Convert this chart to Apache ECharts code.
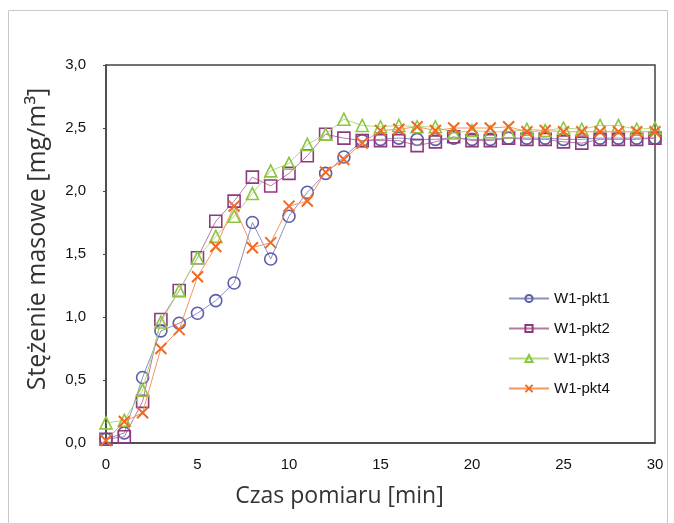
<!DOCTYPE html>
<html>
<head>
<meta charset="utf-8">
<script src="https://cdn.jsdelivr.net/npm/echarts@6/dist/echarts.min.js"></script>
<style>html,body{margin:0;padding:0;background:#fff}#c{width:674px;height:523px}</style>
</head>
<body>
<div id="c"></div>
<script>
const minutes = [0,1,2,3,4,5,6,7,8,9,10,11,12,13,14,15,16,17,18,19,20,21,22,23,24,25,26,27,28,29,30];
const pkt1 = [0.03,0.08,0.52,0.89,0.95,1.03,1.13,1.27,1.75,1.46,1.80,1.99,2.14,2.27,2.40,2.41,2.42,2.41,2.41,2.42,2.41,2.41,2.42,2.42,2.42,2.41,2.41,2.42,2.42,2.42,2.42];
const pkt2 = [0.03,0.05,0.33,0.98,1.21,1.47,1.76,1.92,2.11,2.04,2.14,2.28,2.45,2.42,2.40,2.40,2.40,2.36,2.39,2.43,2.40,2.40,2.42,2.41,2.41,2.39,2.38,2.41,2.41,2.41,2.42];
const pkt3 = [0.16,0.18,0.42,0.96,1.21,1.47,1.64,1.80,1.98,2.16,2.22,2.37,2.45,2.57,2.52,2.51,2.52,2.51,2.51,2.46,2.48,2.47,2.47,2.49,2.48,2.50,2.49,2.52,2.52,2.49,2.50];
const pkt4 = [0.02,0.17,0.24,0.75,0.90,1.32,1.56,1.88,1.55,1.59,1.88,1.92,2.15,2.25,2.38,2.48,2.49,2.51,2.48,2.50,2.50,2.50,2.51,2.47,2.48,2.47,2.47,2.47,2.47,2.47,2.47];
const seriesNames = ['W1-pkt1','W1-pkt2','W1-pkt3','W1-pkt4'];
const xTitle = 'Czas pomiaru [min]';
const yTitle = 'Stężenie masowe [mg/m³]';

const toPairs = arr => minutes.map((m,i)=>[m,arr[i]]);
const colors = ['#5b5ea8','#8e3a7e','#8cc63f','#f26a21'];
const lineColors = ['#8c8fc0','#b47aa6','#b3d97f','#f5955f'];
const symbols = ['circle','rect','triangle','path://M0,0L10,10M10,0L0,10'];
const sizes = [12,12,12,11];

function mk(i, arr){
  return {
    name: seriesNames[i], type:'line', data: toPairs(arr),
    symbol: symbols[i], symbolSize: sizes[i], showAllSymbol:true,
    lineStyle:{color: lineColors[i], width:1},
    itemStyle:{color:'transparent', borderColor: colors[i], borderWidth: i===3?2:1.6},
    emphasis:{disabled:true}, animation:false, z: 2+i
  };
}

const chart = echarts.init(document.getElementById('c'));
chart.setOption({
  animation:false,
  backgroundColor:'#fff',
  graphic:[{type:'rect', shape:{x:8.5,y:10.5,width:659,height:530}, style:{fill:'none', stroke:'#c8c8c8', lineWidth:1}, silent:true}],
  grid:{left:106, right:19, top:65, bottom:80, show:true, borderColor:'#444', borderWidth:1.5, backgroundColor:'transparent'},
  xAxis:{type:'value', min:0, max:30, interval:5,
    axisLine:{show:true, lineStyle:{color:'#444', width:1.5}},
    axisTick:{show:false}, splitLine:{show:false},
    axisLabel:{color:'#111', fontFamily:'Liberation Sans', fontSize:15, margin:14},
    name: xTitle, nameLocation:'middle', nameGap:42,
    nameTextStyle:{color:'#333', fontFamily:'Open Sans', fontSize:23, padding:[0,82,0,0]}
  },
  yAxis:{type:'value', min:0, max:3, interval:0.5,
    axisLine:{show:true, lineStyle:{color:'#444', width:1.5}},
    axisTick:{show:true, inside:false, length:3, lineStyle:{color:'#444'}}, splitLine:{show:false},
    axisLabel:{color:'#111', fontFamily:'Liberation Sans', fontSize:15, margin:20, formatter: v=>v.toFixed(1).replace('.',',')},
    name: yTitle, nameLocation:'middle', nameGap:56, nameRotate:90,
    nameTextStyle:{color:'#333', fontFamily:'Open Sans', fontSize:25, padding:[0,0,0,30]}
  },
  legend:{orient:'vertical', left:503, top:286, itemGap:15, itemWidth:40, itemHeight:9,
    textStyle:{color:'#111', fontFamily:'Liberation Sans', fontSize:15},
    data: seriesNames},
  series:[mk(0,pkt1), mk(1,pkt2), mk(2,pkt3), mk(3,pkt4)]
});
</script>
</body>
</html>
